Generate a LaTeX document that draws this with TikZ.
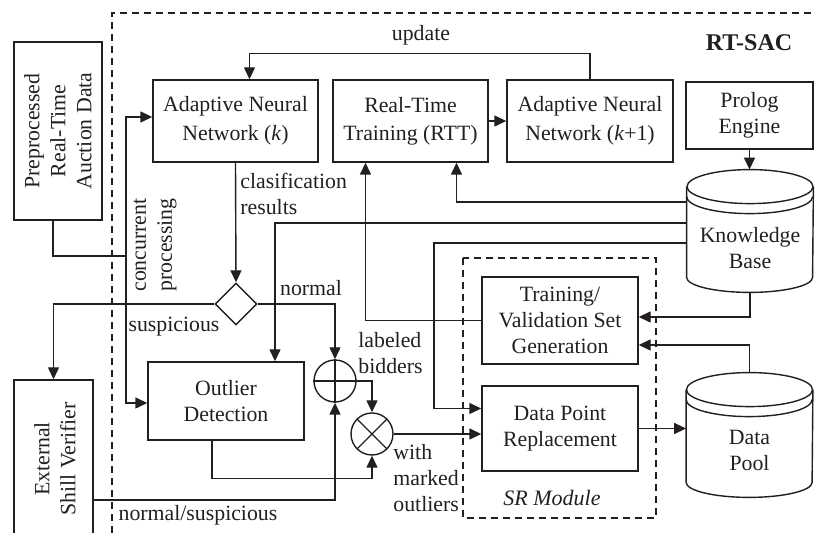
\documentclass[tikz,border=0pt]{standalone}
\usepackage{fontspec}
\setmainfont{Liberation Serif}
\usepackage{tikz}
\usetikzlibrary{arrows.meta,positioning,calc,shapes.geometric}
\definecolor{FigInk}{HTML}{231F20}
% database drum drawn round an empty frame node
\newcommand{\drum}[1]{%
  \draw[line width=0.7pt] ([yshift=-8.5pt]#1.north west)
    -- ([yshift=7.5pt]#1.south west)
    arc[start angle=180,end angle=360,x radius=31.5pt,y radius=7.5pt]
    -- ([yshift=-8.5pt]#1.north east);
  \draw[line width=0.7pt] ([yshift=-8.5pt]#1.north)
    ellipse[x radius=31.5pt,y radius=8.5pt];
  \draw[line width=0.7pt] ([yshift=-13.5pt]#1.north west)
    arc[start angle=180,end angle=360,x radius=31.5pt,y radius=8.5pt];}

\begin{document}
\begin{tikzpicture}[x=0.5pt,y=-0.5pt,FigInk,
    >={Triangle[length=6pt,width=5.5pt]},
    font=\fontsize{10.9}{13}\selectfont,
    blk/.style={draw,line width=0.7pt,align=center,inner sep=0pt},
    arr/.style={->,line width=0.7pt},
    lbl/.style={align=left,inner sep=1pt},
    dashbox/.style={line width=0.6pt,dash pattern=on 3.5pt off 2.5pt}]
  \useasboundingbox (0,0) rectangle (816,533);

  % frames
  \draw[dashbox] (112,533) -- (112,13) -- (816,13);
  \draw[dashbox] (463,258) rectangle (656,518);
  \node[font=\fontsize{12}{14}\selectfont\bfseries] (rtsac) at (749,43) {RT-SAC};
  \node[font=\fontsize{11}{13}\selectfont\itshape] (srmod) at (552,498) {SR Module};

  % outside blocks
  \node[blk,minimum width=44pt,minimum height=89pt] (prep) at (58,131) {};
  \node[rotate=90,align=center] (prep-t) at (prep)
    {Preprocessed\\Real-Time\\Auction Data};
  \node[blk,minimum width=39.5pt,minimum height=80pt] (esv) at (53.5,460) {};
  \node[rotate=90,align=center] (esv-t) at (55,459) {External\\Shill Verifier};

  % top row
  \node[blk,minimum width=82.5pt,minimum height=41pt] (annk) at (235.5,121)
    {Adaptive Neural\\[1.5pt]Network (\textit{k})};
  \node[blk,minimum width=77.5pt,minimum height=41pt] (rtt) at (410.5,121)
    {Real-Time\\[1pt]Training (RTT)};
  \node[blk,minimum width=83pt,minimum height=41pt] (annk1) at (590,121)
    {Adaptive Neural\\[1.5pt]Network (\textit{k}+1)};
  \node[blk,minimum width=63.5pt,minimum height=33.5pt] (prolog) at (749.5,115.5)
    {Prolog\\Engine};

  % stores
  \node[minimum width=63pt,minimum height=61pt,inner sep=0pt] (kb) at (750,231) {};
  \drum{kb}
  \node[align=center] (kb-t) at (750,248) {Knowledge\\Base};
  \node[minimum width=63pt,minimum height=62pt,inner sep=0pt] (pool) at (749.5,435) {};
  \drum{pool}
  \node[align=center] (pool-t) at (749.5,450) {Data\\Pool};

  % SR module
  \node[blk,minimum width=78pt,minimum height=43.5pt] (tvsg) at (560,320.5)
    {Training/\\Validation Set\\Generation};
  \node[blk,minimum width=78pt,minimum height=42.5pt] (dpr) at (560,428.5)
    {Data Point\\Replacement};

  % decision and outliers
  \node[draw,diamond,line width=0.7pt,minimum width=21pt,minimum height=21pt,
        inner sep=0pt] (dec) at (236,304) {};
  \node[blk,minimum width=78pt,minimum height=39pt] (od) at (226,401)
    {Outlier\\Detection};
  \node[draw,circle,line width=0.7pt,minimum size=21pt,inner sep=0pt] (sum) at (335,381) {};
  \draw[line width=0.7pt] (sum.north) -- (sum.south) (sum.west) -- (sum.east);
  \node[draw,circle,line width=0.7pt,minimum size=21pt,inner sep=0pt] (prod) at (372,434) {};
  \draw[line width=0.7pt] (prod.north west) -- (prod.south east)
    (prod.north east) -- (prod.south west);

  % input bus
  \coordinate (bus) at (126,256);
  \draw[line width=0.7pt] ([xshift=-2.5pt]prep.south) |- (bus);
  \draw[arr] (bus) |- ([yshift=2pt]annk.west);
  \draw[arr] (bus) |- ([yshift=-1pt]od.west);
  \node[rotate=90,align=center] (conc) at (155,245) {concurrent\\processing};

  % training loop
  \draw[arr] (annk1.north) -- ++(0,-26) -| ([xshift=7pt]annk.north);
  \node (upd) at (421,35) {update};
  \draw[arr] (rtt.east) -- (annk1.west);
  \draw[arr] (prolog.south) -- (prolog.south |- kb.north);
  \draw[arr] ([yshift=14.5pt]kb.west) -| ([xshift=23pt]rtt.south);
  \draw[arr] ([yshift=4pt]kb.west) -| ([xshift=24.5pt]od.north);
  \draw[arr] ([yshift=-6pt]kb.west) -| (434,300) |- ([yshift=10pt]dpr.west);
  \draw[arr] (tvsg.west) -| ([xshift=-22.5pt]rtt.south);
  \draw[arr] (kb.south) |- ([yshift=1.75pt]tvsg.east);
  \draw[arr] (pool.north) |- ([yshift=-12.25pt]tvsg.east);
  \draw[arr] (dpr.east) -- (dpr.east -| pool.west);

  % classification
  \draw[arr] (annk.south) -- (dec.north);
  \node[lbl,anchor=west] (cls) at (238,194) {clasification\\results};
  \draw[arr] (dec.east) -| (sum.north);
  \node (nrm) at (311,288) {normal};
  \draw[arr] (dec.west) -| (esv.north);
  \node (susp) at (174,327) {suspicious};
  \draw[arr] ([yshift=-20pt]esv.east) -| (sum.south);
  \node (ns) at (198,515) {normal/suspicious};
  \draw[arr] (sum.east) -| (prod.north);
  \node[lbl,anchor=west] (lab) at (356,353) {labeled\\bidders};
  \draw[arr] ([xshift=-7pt]od.south) -- ++(0,38) -| (prod.south);
  \draw[arr] (prod.east) -- (prod.east -| dpr.west);
  \node[lbl,anchor=west] (mrk) at (391,478) {with\\marked\\outliers};
\end{tikzpicture}
\end{document}
